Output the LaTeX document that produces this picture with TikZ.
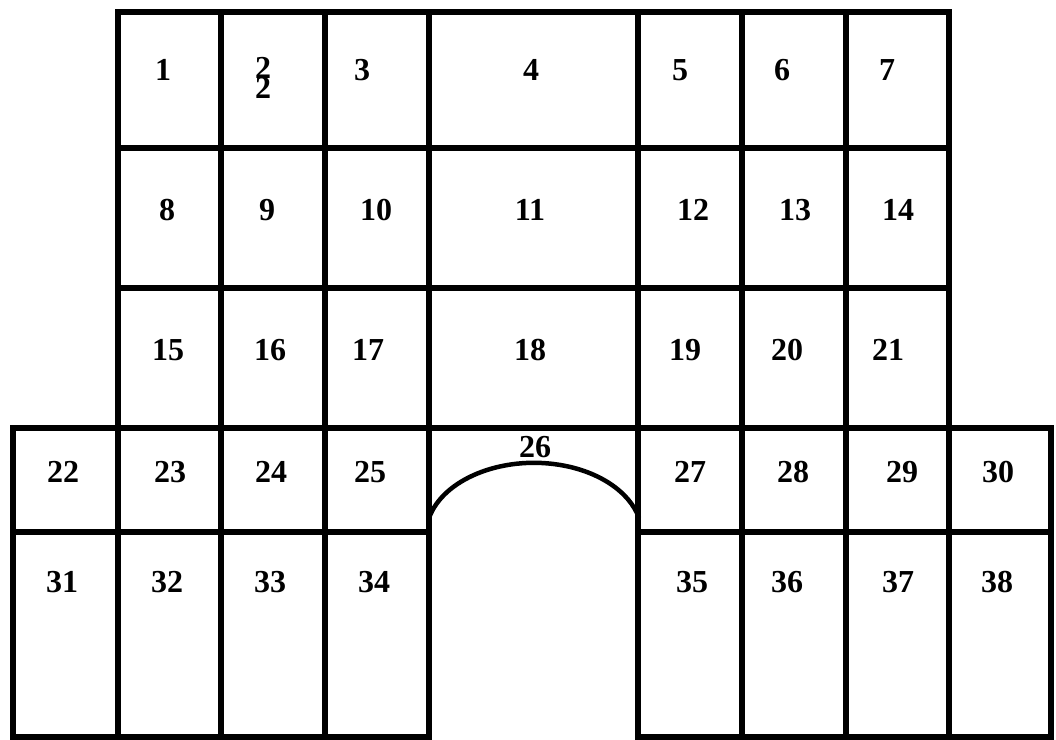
\documentclass[tikz,border=0pt]{standalone}
\usepackage{fontspec}
\setmainfont{Liberation Serif}
\tikzset{
  %% Thick black walls of the plan
  wall/.style={draw=black, line width=5.5pt, line cap=rect, line join=miter},
  %% Room numbers
  roomnum/.style={font=\fontsize{32}{32}\selectfont\bfseries, inner sep=0pt},
}

\begin{document}
\begin{tikzpicture}[x=1pt, y=-1pt]

  %% ── Layout constants (pixels of the plan) ─────────────────────────────
  \def\XA{13}   \def\XB{118}  \def\XC{221}  \def\XD{325}  \def\XE{429}
  \def\XF{638}  \def\XG{742}  \def\XH{846}  \def\XI{949}  \def\XJ{1051}
  \def\YA{12}   \def\YB{148}  \def\YC{288}  \def\YD{428}  \def\YE{532}
  \def\YF{737}

  \useasboundingbox (0,0) rectangle (1056,739);

  %% ══════════════════════════════════════════════════════════════════════
  %%  UPPER BLOCK (three rows of seven rooms)
  %% ══════════════════════════════════════════════════════════════════════
  \draw[wall] (\XB,\YA) rectangle (\XI,\YD);
  \foreach \y in {\YB,\YC}{
    \draw[wall] (\XB,\y) -- (\XI,\y);
  }
  \foreach \x in {\XC,\XD,\XE,\XF,\XG,\XH}{
    \draw[wall] (\x,\YA) -- (\x,\YD);
  }

  %% ══════════════════════════════════════════════════════════════════════
  %%  LOWER BLOCK (two rows, gate in the middle)
  %% ══════════════════════════════════════════════════════════════════════
  \draw[wall] (\XA,\YD) -- (\XJ,\YD);
  \draw[wall] (\XA,\YE) -- (\XE,\YE);
  \draw[wall] (\XF,\YE) -- (\XJ,\YE);
  \draw[wall] (\XA,\YF) -- (\XE,\YF);
  \draw[wall] (\XF,\YF) -- (\XJ,\YF);
  \foreach \x in {\XA,\XB,\XC,\XD,\XE,\XF,\XG,\XH,\XI,\XJ}{
    \draw[wall] (\x,\YD) -- (\x,\YF);
  }

  %% Gate arch
  \draw[wall, line width=4.5pt, line cap=butt]
        (\XE,518) arc[start angle=-166.5, end angle=-13.5,
                      x radius=108, y radius=72];

  %% ── Room numbers ─────────────────────────────────────────────────────
  \foreach \n/\x/\y in {
    1/163/70, 3/362/70, 4/531/70, 5/680/70, 6/782/70, 7/887/70,
    8/167/210, 9/267/210, 10/376/210, 11/530/210,
    12/693/210, 13/795/210, 14/898/210,
    15/168/350, 16/270/350, 17/368/350, 18/530/350,
    19/685/350, 20/787/350, 21/888/350,
    22/63/472, 23/170/472, 24/271/472, 25/370/472,
    27/690/472, 28/793/472, 29/902/472, 30/998/472,
    31/62/582, 32/167/582, 33/270/582, 34/374/582,
    35/692/582, 36/787/582, 37/898/582, 38/997/582
  }{
    \node[roomnum] (n\n) at (\x,\y) {\n};
  }
  %% room 2 is printed twice, overlapping
  \node[roomnum] (n2a) at (263,68) {2};
  \node[roomnum] (n2b) at (263,88) {2};
  \node[roomnum] (n26) at (535,447) {26};

\end{tikzpicture}
\end{document}
